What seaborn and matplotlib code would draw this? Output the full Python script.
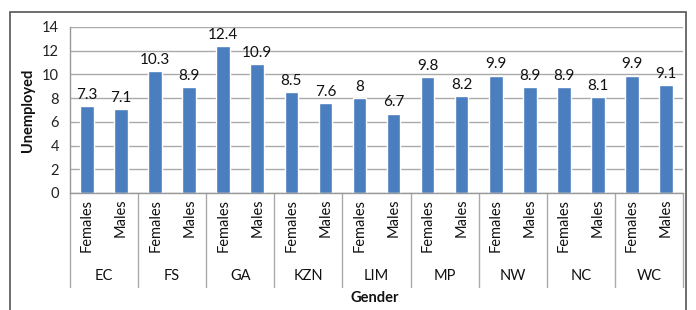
import matplotlib
matplotlib.use("Agg")
import matplotlib.pyplot as plt
from matplotlib.patches import Rectangle
from matplotlib.transforms import blended_transform_factory
import seaborn as sns
import pandas as pd

provinces = ["EC", "FS", "GA", "KZN", "LIM", "MP", "NW", "NC", "WC"]
genders = ["Females", "Males"]
females = [7.3, 10.3, 12.4, 8.5, 8.0, 9.8, 9.9, 8.9, 9.9]
males = [7.1, 8.9, 10.9, 7.6, 6.7, 8.2, 8.9, 8.1, 9.1]
value_labels_f = ["7.3", "10.3", "12.4", "8.5", "8", "9.8", "9.9", "8.9", "9.9"]
value_labels_m = ["7.1", "8.9", "10.9", "7.6", "6.7", "8.2", "8.9", "8.1", "9.1"]
y_ticks = [0, 2, 4, 6, 8, 10, 12, 14]

rows = []
for p, f, m, lf, lm in zip(provinces, females, males, value_labels_f, value_labels_m):
    rows.append({"key": p + " Females", "province": p, "gender": "Females", "value": f, "lab": lf})
    rows.append({"key": p + " Males", "province": p, "gender": "Males", "value": m, "lab": lm})
df = pd.DataFrame(rows)

sns.set_style("white")
plt.rcParams["font.family"] = ["Lato", "DejaVu Sans"]

fig = plt.figure(figsize=(6.96, 3.10), dpi=100)
ax = fig.add_axes([70 / 696, 1 - 193 / 310, 613 / 696, 166 / 310])

sns.barplot(data=df, x="key", y="value", order=list(df["key"]), color="#4A7EBF",
            width=0.4, ax=ax, saturation=1, errorbar=None)

ax.set_ylim(0, 14)
ax.set_xlim(-0.5, len(df) - 0.5)
ax.set_yticks(y_ticks)
ax.set_yticklabels([str(t) for t in y_ticks], fontsize=10.5, color="#222222")
ax.yaxis.grid(True, color="#AAAAAA", linewidth=1)
ax.set_axisbelow(True)
ax.tick_params(axis="both", length=0, pad=8)
ax.tick_params(axis="x", pad=4)
ax.set_xticks(range(len(df)))
ax.set_xticklabels(list(df["gender"]), rotation=90, fontsize=10.5, color="#111111",
                   va="top", ha="center")
for s in ["top", "right"]:
    ax.spines[s].set_visible(False)
for s in ["left", "bottom"]:
    ax.spines[s].set_color("#999999")
    ax.spines[s].set_linewidth(1)

ax.set_xlabel("")
ax.set_ylabel("Unemployed", fontsize=10.5, fontweight="bold", color="#111111", labelpad=5)

for i, (v, lab) in enumerate(zip(df["value"], df["lab"])):
    ax.annotate(lab, (i, v), xytext=(0, 3), textcoords="offset points",
                ha="center", va="bottom", fontsize=11, color="#111111")

trans = blended_transform_factory(ax.transData, ax.transAxes)
for g in range(len(provinces) + 1):
    x = g * 2 - 0.5
    ax.plot([x, x], [0, -0.566], transform=trans, color="#AAAAAA", linewidth=1, clip_on=False)
for g, p in enumerate(provinces):
    ax.text(g * 2 + 0.5, -0.5, p, transform=trans, ha="center", va="center",
            fontsize=10.5, color="#111111")

ax.text(0.497, -0.63, "Gender", transform=ax.transAxes, ha="center", va="center",
        fontsize=10.5, fontweight="bold", color="#111111")

fig.patches.append(Rectangle((10 / 696, -0.05), 676 / 696, 1 - 12 / 310 + 0.05,
                             transform=fig.transFigure, fill=False,
                             edgecolor="#555555", linewidth=1.2))

fig.savefig("out.png", dpi=100)
